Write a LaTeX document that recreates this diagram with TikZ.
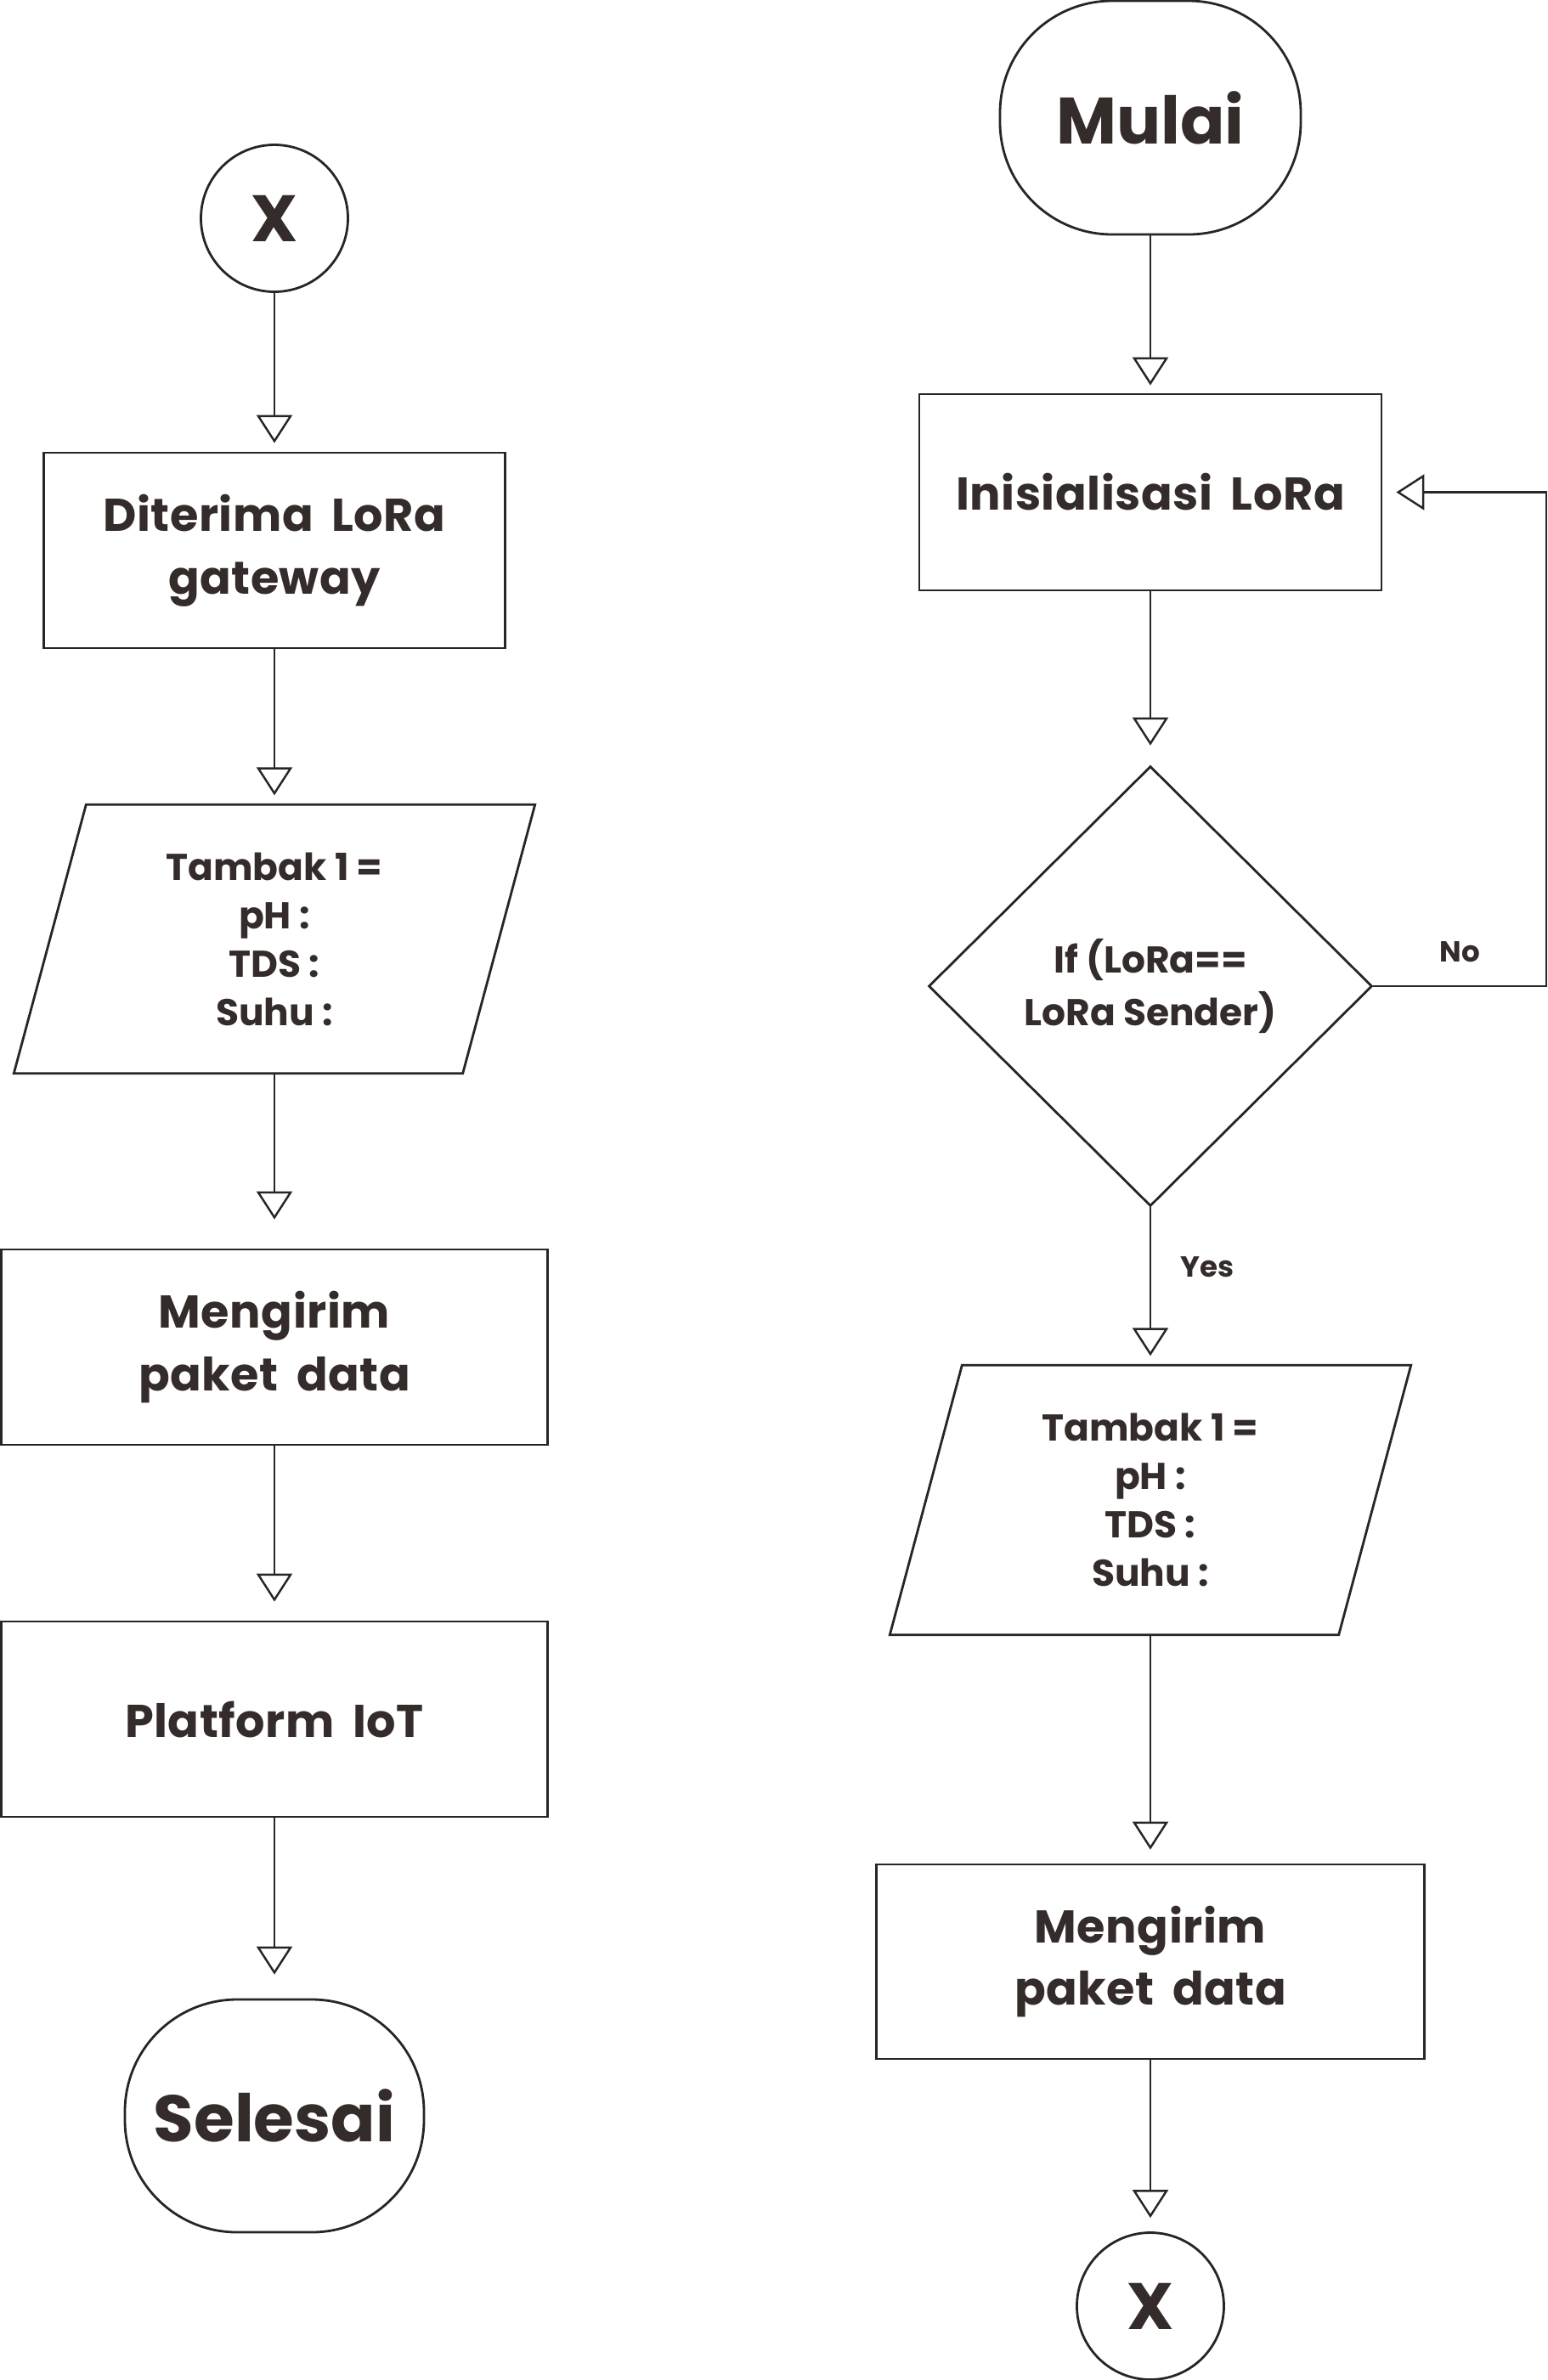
\documentclass[tikz,border=0pt]{standalone}
\usepackage{fontspec}
\setmainfont{Poppins}
\newfontfamily\boxfont{Poppins}[LetterSpace=1, WordSpace=1.8]
\usepackage{tikz}
\usetikzlibrary{arrows.meta,shapes.geometric,calc}

\definecolor{ink}{HTML}{332C2B}

\tikzset{
  line/.style={draw=black!85, line width=0.8pt},
  flow/.style={draw=black!85, line width=0.7pt,
    -{Triangle[open, length=0.33cm, width=0.42cm]}, shorten >=#1},
  flow/.default=0.1cm,
  terminal/.style={line, rectangle, rounded corners=1.32cm, minimum width=3.54cm,
    minimum height=2.75cm, text=ink, font=\bfseries\fontsize{22}{26}\selectfont},
  connector/.style={line, circle, minimum size=1.73cm, inner sep=0pt, text=ink,
    font=\bfseries\fontsize{22}{26}\selectfont},
  process/.style={line, rectangle, minimum width=6.43cm, minimum height=2.30cm,
    align=center, text=ink, font=\boxfont\bfseries\fontsize{15.4}{21}\selectfont},
  inout/.style={rectangle, minimum width=5.27cm, minimum height=3.15cm, align=center,
    text=ink, font=\bfseries\fontsize{12.5}{16.2}\selectfont},
  decision/.style={line, diamond, minimum width=5.22cm, minimum height=5.18cm,
    inner sep=0pt, align=center, text=ink, font=\bfseries\fontsize{12.5}{17.6}\selectfont},
  answer/.style={inner sep=0pt, text=ink, font=\bfseries\fontsize{9.7}{12}\selectfont}
}

\begin{document}
\begin{tikzpicture}
\useasboundingbox (0,0) rectangle (18.22,-28.02);

% Left column
\node[connector] (xA) at (3.23,-2.57) {X};
\node[process, minimum width=5.43cm] (recv) at (3.23,-6.48) {Diterima LoRa\\gateway};
\node[inout] (dataA) at (3.23,-11.055) {Tambak 1 =\\pH :\\TDS :\\Suhu :};
\node[process] (sendA) at (3.23,-15.86) {Mengirim\\paket data};
\node[process] (iot) at (3.23,-20.24) {Platform IoT};
\node[terminal, minimum width=3.52cm, minimum height=2.74cm] (stop) at (3.23,-24.91) {Selesai};

% Right column
\node[terminal] (start) at (13.54,-1.385) {Mulai};
\node[process, minimum width=5.44cm, minimum height=2.31cm] (init) at (13.54,-5.795) {Inisialisasi LoRa};
\node[decision] (check) at (13.54,-11.61) {If (LoRa==\\LoRa Sender)};
\node[inout, minimum height=3.16cm] (dataB) at (13.54,-17.66) {Tambak 1 =\\pH :\\TDS :\\Suhu :};
\node[process, minimum width=6.45cm, minimum height=2.29cm] (sendB) at (13.54,-23.095) {Mengirim\\paket data};
\node[connector] (xB) at (13.54,-27.15) {X};
\coordinate (loop) at (18.2,-11.61);

% Data boxes
\foreach \p in {dataA,dataB}
  \draw[line] ([xshift=-0.425cm]\p.south west) -- ([xshift=-0.425cm]\p.south east)
    -- ([xshift=0.425cm]\p.north east) -- ([xshift=0.425cm]\p.north west) -- cycle;

% Left flow
\draw[flow=0.10cm] (xA.south) -- (recv.north);
\draw[flow=0.11cm] (recv.south) -- (dataA.north);
\draw[flow=0.34cm] (dataA.south) -- (sendA.north);
\draw[flow=0.22cm] (sendA.south) -- (iot.north);
\draw[flow=0.28cm] (iot.south) -- (stop.north);

% Right flow
\draw[flow=0.09cm] (start.south) -- (init.north);
\draw[flow=0.23cm] (init.south) -- (check.north);
\draw[flow=0.11cm] (check.south) -- node[answer, pos=0.38, right=0.34cm] (yes) {Yes} (dataB.north);
\draw[flow=0.16cm] (dataB.south) -- (sendB.north);
\draw[flow=0.16cm] (sendB.south) -- (xB.north);

% Loop back
\draw[flow=0.16cm] (check.east) -- node[answer, midway, above=0.27cm] (no) {No} (loop) |- (init.east);
\end{tikzpicture}
\end{document}
